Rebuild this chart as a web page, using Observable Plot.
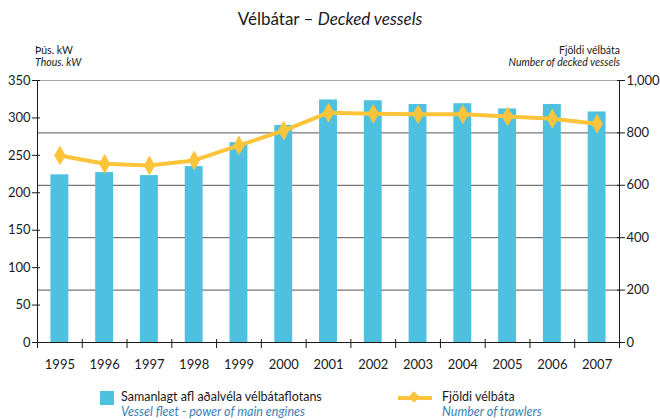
<!DOCTYPE html>
<html><head><meta charset="utf-8">
<script src="https://cdn.jsdelivr.net/npm/d3@7"></script>
<script src="https://cdn.jsdelivr.net/npm/@observablehq/plot@0.6"></script>
<style>
body{margin:0;background:#fff;font-family:Lato,"Open Sans",sans-serif;color:#1a1a1a;}
#wrap{position:relative;width:660px;height:420px;overflow:hidden;}
.abs{position:absolute;white-space:nowrap;}
.it{font-style:italic;}
.blue{color:#3a7fb8;}
</style></head>
<body><div id="wrap">
<div class="abs" style="left:0;width:660px;top:8px;text-align:center;font-size:17px;">Vélbátar – <span class="it">Decked vessels</span></div>
<div class="abs" style="left:35px;top:44px;font-size:10.5px;line-height:12px;">Þús. kW<br><span class="it">Thous. kW</span></div>
<div class="abs" style="right:40px;top:44px;font-size:10.5px;line-height:12px;text-align:right;">Fjöldi vélbáta<br><span class="it">Number of decked vessels</span></div>
<div id="chart" class="abs" style="left:0;top:70px;"></div>
<div class="abs" style="left:100px;top:391px;width:14px;height:14px;background:#4fc1e0;"></div>
<div class="abs" style="left:121px;top:389px;font-size:12.5px;line-height:15px;">Samanlagt afl aðalvéla vélbátaflotans<br><span class="it blue">Vessel fleet - power of main engines</span></div>
<div class="abs" style="left:398px;top:396px;width:34px;height:4px;background:#fbc43a;"></div>
<div class="abs" style="left:410px;top:393px;width:8px;height:8px;background:#fbc43a;transform:rotate(45deg);"></div>
<div class="abs" style="left:442px;top:389px;font-size:12.5px;line-height:15px;">Fjöldi vélbáta<br><span class="it blue">Number of trawlers</span></div>
</div>
<script>
const years = [1995,1996,1997,1998,1999,2000,2001,2002,2003,2004,2005,2006,2007];
const powerKW = [224,227,223,235,267,290,324,323,318,319,312,318,308];
const vessels = [714,682,676,695,752,809,877,873,871,871,863,854,835];
const leftTicks = [0,50,100,150,200,250,300,350];
const rightTicks = [0,200,400,600,800,1000];

const k = 350 / 1000;
const data = years.map((year, i) => ({year, power: powerKW[i], vessels: vessels[i]}));
const halfBand = 0.2;
const edges = years.map(y => y - 0.5).concat([years[years.length - 1] + 0.5]);
const fmt = d3.format(",");

const chart = Plot.plot({
  width: 660, height: 312,
  marginLeft: 37, marginRight: 41, marginTop: 10, marginBottom: 40,
  x: {type: "linear", domain: [edges[0], edges[edges.length - 1]]},
  y: {domain: [0, 350]},
  style: {fontFamily: "Lato, 'Open Sans', sans-serif", fontSize: "13px", color: "#1a1a1a", background: "transparent"},
  marks: [
    Plot.ruleY(rightTicks.slice(1, -1), {y: d => d * k, stroke: "#555", strokeWidth: 1}),
    Plot.ruleY([rightTicks[rightTicks.length - 1]], {y: d => d * k, stroke: "#aaa", strokeWidth: 1}),
    Plot.rectY(data, {x1: d => d.year - halfBand, x2: d => d.year + halfBand, y: "power", fill: "#4fc1e0"}),
    Plot.lineY(data, {x: "year", y: d => d.vessels * k, stroke: "#fbc43a", strokeWidth: 4}),
    Plot.dot(data, {x: "year", y: d => d.vessels * k, symbol: "diamond", r: 6, fill: "#fbc43a", stroke: "none"}),
    Plot.ruleX([edges[0], edges[edges.length - 1]], {stroke: "#1a1a1a", strokeWidth: 1}),
    Plot.ruleY([0], {stroke: "#1a1a1a", strokeWidth: 1}),
    Plot.axisY({ticks: leftTicks, tickSize: 5, tickPadding: 2, label: null, tickFormat: d => String(d)}),
    Plot.axisY({ticks: leftTicks, tickSize: -3, label: null, tickFormat: () => ""}),
    Plot.axisY({anchor: "right", ticks: rightTicks.map(d => d * k), tickSize: 5, tickPadding: 2, label: null, tickFormat: d => fmt(Math.round(d / k))}),
    Plot.axisY({anchor: "right", ticks: rightTicks.map(d => d * k), tickSize: -3, label: null, tickFormat: () => ""}),
    Plot.axisX({ticks: edges, tickSize: 6, tickFormat: () => "", label: null}),
    Plot.axisX({ticks: edges, tickSize: -3, tickFormat: () => "", label: null}),
    Plot.axisX({ticks: years, tickSize: 0, tickPadding: 17, tickFormat: d => String(d), label: null})
  ]
});
document.getElementById("chart").appendChild(chart);
</script>
</body></html>
